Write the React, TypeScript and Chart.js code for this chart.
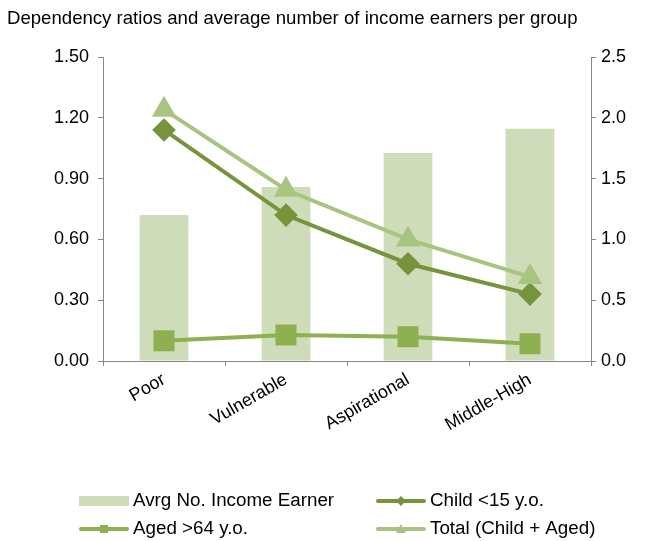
import React, { useEffect, useRef } from "react";
import { Chart, registerables } from "chart.js";

Chart.register(...registerables);

const TITLE = "Dependency ratios and average number of income earners per group";
const categories = ["Poor", "Vulnerable", "Aspirational", "Middle-High"];
const avgIncomeEarners = [1.2, 1.43, 1.71, 1.91];
const childRatio = [1.14, 0.72, 0.48, 0.33];
const agedRatio = [0.1, 0.128, 0.12, 0.085];
const totalRatio = [1.24, 0.845, 0.6, 0.415];

const C_BAR = "#cfdcb9";
const C_CHILD = "#77933c";
const C_AGED = "#8fb050";
const C_TOTAL = "#a9c47f";
const FONT = "'Liberation Sans', Arial, sans-serif";
const AXIS = "#868686";

const overlayPlugin = {
  id: "overlay",
  afterDraw(chart: any) {
    const ctx = chart.ctx;
    ctx.save();
    ctx.fillStyle = "#000";
    ctx.font = `18.6px ${FONT}`;
    ctx.textBaseline = "middle";
    ctx.textAlign = "left";
    ctx.fillText(TITLE, 7, 19);

    const items = [
      { t: "Avrg No. Income Earner", kind: "bar", c: C_BAR, x: 79, y: 501 },
      { t: "Child <15 y.o.", kind: "rectRot", c: C_CHILD, x: 376, y: 501 },
      { t: "Aged >64 y.o.", kind: "rect", c: C_AGED, x: 79, y: 529 },
      { t: "Total (Child + Aged)", kind: "triangle", c: C_TOTAL, x: 376, y: 529 },
    ];
    ctx.font = `18.8px ${FONT}`;
    for (const it of items) {
      const w = 50;
      if (it.kind === "bar") {
        ctx.fillStyle = it.c;
        ctx.fillRect(it.x, it.y - 5, w, 10);
      } else {
        ctx.strokeStyle = it.c;
        ctx.lineWidth = 4;
        ctx.lineCap = "round";
        ctx.beginPath();
        ctx.moveTo(it.x + 2, it.y);
        ctx.lineTo(it.x + w - 2, it.y);
        ctx.stroke();
        ctx.fillStyle = it.c;
        ctx.beginPath();
        const cx = it.x + w / 2;
        if (it.kind === "rectRot") {
          ctx.moveTo(cx - 5, it.y);
          ctx.lineTo(cx, it.y - 5);
          ctx.lineTo(cx + 5, it.y);
          ctx.lineTo(cx, it.y + 5);
        } else if (it.kind === "rect") {
          ctx.rect(cx - 4, it.y - 4, 8, 8);
        } else {
          ctx.moveTo(cx, it.y - 5);
          ctx.lineTo(cx + 5, it.y + 4);
          ctx.lineTo(cx - 5, it.y + 4);
        }
        ctx.closePath();
        ctx.fill();
      }
      ctx.fillStyle = "#000";
      ctx.fillText(it.t, it.x + w + 4, it.y);
    }
    ctx.restore();
  },
};

export default function App() {
  const ref = useRef<HTMLCanvasElement>(null);
  useEffect(() => {
    if (!ref.current) return;
    const chart = new Chart(ref.current, {
      type: "bar",
      data: {
        labels: categories,
        datasets: [
          {
            type: "line",
            label: "Total (Child + Aged)",
            data: totalRatio,
            borderColor: C_TOTAL,
            backgroundColor: C_TOTAL,
            borderWidth: 4,
            pointStyle: "triangle",
            pointRadius: 10,
            yAxisID: "y",
            order: 1,
          } as any,
          {
            type: "line",
            label: "Child <15 y.o.",
            data: childRatio,
            borderColor: C_CHILD,
            backgroundColor: C_CHILD,
            borderWidth: 4,
            pointStyle: "rectRot",
            pointRadius: 9,
            yAxisID: "y",
            order: 2,
          } as any,
          {
            type: "line",
            label: "Aged >64 y.o.",
            data: agedRatio,
            borderColor: C_AGED,
            backgroundColor: C_AGED,
            borderWidth: 4,
            pointStyle: "rect",
            pointRadius: 12,
            yAxisID: "y",
            order: 3,
          } as any,
          {
            type: "bar",
            label: "Avrg No. Income Earner",
            data: avgIncomeEarners,
            backgroundColor: C_BAR,
            barPercentage: 0.4,
            categoryPercentage: 1,
            yAxisID: "y1",
            order: 10,
          } as any,
        ],
      },
      options: {
        responsive: false,
        animation: false,
        devicePixelRatio: 1,
        layout: { padding: { top: 57, left: 0, right: 0, bottom: 0 } },
        plugins: {
          legend: { display: false },
          title: { display: false },
          tooltip: { enabled: false },
        },
        scales: {
          x: {
            offset: true,
            grid: {
              offset: true,
              drawOnChartArea: false,
              tickLength: 5,
              color: AXIS,
            },
            border: { color: AXIS, width: 1 },
            ticks: {
              color: "#000",
              font: { family: FONT, size: 18 },
              minRotation: 30,
              maxRotation: 30,
              padding: 3,
            },
            afterFit(scale: any) {
              scale.height = 180;
            },
          },
          y: {
            position: "left",
            min: 0,
            max: 1.5,
            grid: { drawOnChartArea: false, tickLength: 5, color: AXIS },
            border: { color: AXIS, width: 1 },
            ticks: {
              stepSize: 0.3,
              color: "#000",
              font: { family: FONT, size: 18 },
              padding: 9,
              callback: (v: any) => Number(v).toFixed(2),
            },
            afterFit(scale: any) {
              scale.width = 103;
            },
          },
          y1: {
            position: "right",
            min: 0,
            max: 2.5,
            grid: { drawOnChartArea: false, tickLength: 5, color: AXIS },
            border: { color: AXIS, width: 1 },
            ticks: {
              stepSize: 0.5,
              color: "#000",
              font: { family: FONT, size: 18 },
              padding: 5,
              callback: (v: any) => Number(v).toFixed(1),
            },
            afterFit(scale: any) {
              scale.width = 55;
            },
          },
        },
      },
      plugins: [overlayPlugin],
    });
    return () => chart.destroy();
  }, []);
  return (
    <div style={{ position: "fixed", left: 0, top: 0, width: 646, height: 541, background: "#fff" }}>
      <canvas ref={ref} width={646} height={541} />
    </div>
  );
}
